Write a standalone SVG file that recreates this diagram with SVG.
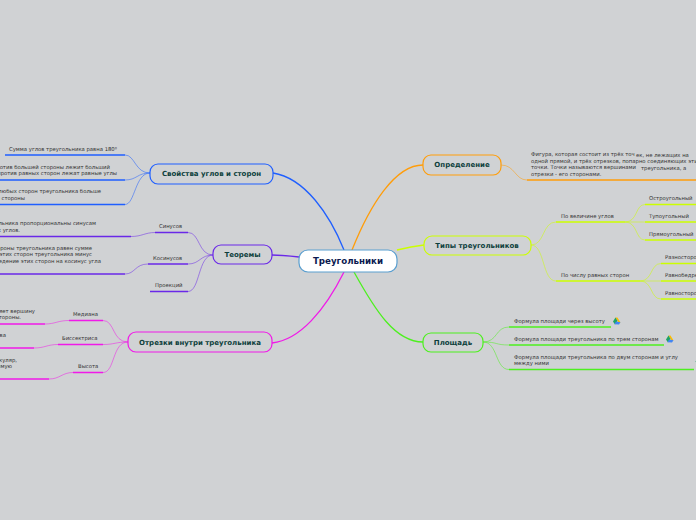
<svg xmlns="http://www.w3.org/2000/svg" width="696" height="520" viewBox="0 0 696 520">
<style>
text{font-family:"DejaVu Sans",sans-serif;fill:#333;font-size:5.3px}
.t{font-weight:bold;font-size:7px;fill:#0d3f3c;text-anchor:middle}
.e{text-anchor:end}
.n{fill:#d0d2d4;stroke-width:1.2}
path{fill:none}
.blue{stroke:#1f5fff}.pur{stroke:#6a28e8}.mag{stroke:#f01ae8}.ora{stroke:#ff9d0a}.yel{stroke:#ccff00}.gre{stroke:#4df01f}
.u{stroke-width:1.5}.c{stroke-width:.8;stroke-opacity:.65}.m{stroke-width:1.3}
</style>
<defs>
<g id="drive"><polygon points="3,-3.5 5,-3.5 8,1.5 6,1.5" fill="#fbbc04"/><polygon points="3,-3.5 5,0 2.5,3.5 0.5,0.5" fill="#1fa463"/><polygon points="2,3.2 3.5,0.5 8,1.2 6.5,3.5" fill="#4285f4"/></g>
</defs>
<rect width="696" height="520" fill="#d0d2d4"/>
<g id="connectors">
<path class="blue m" d="M344 250C330 215 305 178 273 173"/>
<path class="pur m" d="M299 257C290 256 280 255 272 255"/>
<path class="mag m" d="M344 272C325 310 300 340 272 343"/>
<path class="ora m" d="M352 250C370 205 395 165 423 165"/>
<path class="yel m" d="M397 250C405 248 415 246 424 245"/>
<path class="gre m" d="M354 272C375 310 395 342 423 342"/>
<path class="blue c" d="M150 173C135 173 135 155 125 155M150 173C137 173 137 180 125 180M150 173C135 173 135 204.500 125 204.500"/>
<path class="pur c" d="M213 255C198 255 200 232.500 188 232.500M213 255C200 255 200 264 188 264M213 255C198 255 200 291.500 188 291.500"/>
<path class="pur c" d="M155 232.500C145 232.500 142 236.500 131 236.500M148 264C135 264 135 274 125 274"/>
<path class="mag c" d="M128 342C112 342 115 320.500 103 320.500M128 342C115 342 115 344.500 103 344.500M128 342C112 342 115 372.500 103 372.500"/>
<path class="mag c" d="M69 320.500C58 320.500 55 324 45 324M58 344.500C47 344.500 45 348 34 348M73 372.500C62 372.500 60 379 49 379"/>
<path class="ora c" d="M501 165C515 165 515 180 527 180"/>
<path class="yel c" d="M531 245C545 245 542 222 556 222M531 245C545 245 542 281 556 281"/>
<path class="yel c" d="M625 222C638 222 635 204.500 645 204.500M625 222H645M625 222C638 222 635 240 645 240"/>
<path class="yel c" d="M640 281C653 281 650 263.500 661 263.500M640 281H661M640 281C653 281 650 299 661 299"/>
<path class="gre c" d="M483 342C498 342 495 327 509 327M483 342C498 342 495 345 509 345M483 342C498 342 495 369.500 509 369.500"/>
<path class="blue u" d="M5 155H125M0 180H125M0 204.500H125"/>
<path class="pur u" d="M155 232.500H188M0 236.500H131M148 264H188M0 274H125M150 291.500H188"/>
<path class="mag u" d="M69 320.500H103M0 324H45M58 344.500H103M0 348H34M73 372.500H103M0 379H49"/>
<path class="ora u" d="M527 180H696"/>
<path class="yel u" d="M556 222H625M645 204.500H696M645 222H696M645 240H696M556 281H640M661 263.500H696M661 281H696M661 299H696"/>
<path class="gre u" d="M509 327H611M509 345H664M509 369.500H694"/>
</g>
<g id="root"><rect x="299" y="250" width="98" height="22" rx="9" fill="#fff" stroke="#5a9fd0" stroke-width="1.2"/><text x="348" y="264" text-anchor="middle" style="font-weight:bold;font-size:8.700px;fill:#0c1a50">Треугольники</text></g>
<g id="n-svoystva"><rect class="n blue" x="150" y="164" width="123" height="20" rx="8"/><text class="t" x="211.500" y="176">Свойства углов и сторон</text></g>
<g id="n-teoremy"><rect class="n pur" x="213" y="245" width="59" height="19" rx="8"/><text class="t" x="242.500" y="257">Теоремы</text></g>
<g id="n-otrezki"><rect class="n mag" x="128" y="332" width="144" height="20" rx="8"/><text class="t" x="200" y="345">Отрезки внутри треугольника</text></g>
<g id="n-opred"><rect class="n ora" x="423" y="155" width="78" height="20" rx="8"/><text class="t" x="462" y="167">Определение</text></g>
<g id="n-tipy"><rect class="n yel" x="424" y="236" width="107" height="19" rx="8"/><text class="t" x="477" y="248">Типы треугольников</text></g>
<g id="n-plosh"><rect class="n gre" x="423" y="333" width="60" height="19" rx="8"/><text class="t" x="453" y="345">Площадь</text></g>
<g id="props">
<text x="9" y="151">Сумма углов треугольника равна 180⁰</text>
<text class="e" x="110" y="169">Против большей стороны лежит больший</text>
<text class="e" x="117" y="175">угол, против равных сторон лежат равные углы</text>
<text class="e" x="101" y="193">Сумма двух любых сторон треугольника больше</text>
<text class="e" x="25" y="200">третьей стороны</text>
<text x="159" y="228">Синусов</text>
<text class="e" x="96" y="225">Стороны треугольника пропорциональны синусам</text>
<text class="e" x="20" y="232">противолежащих углов.</text>
<text x="153" y="259.500">Косинусов</text>
<text class="e" x="92" y="250">Квадрат стороны треугольника равен сумме</text>
<text class="e" x="92" y="256">квадратов этих сторон треугольника минус</text>
<text class="e" x="101" y="263">удвоенное произведение этих сторон на косинус угла</text>
<text x="155" y="287">Проекций</text>
<text x="73" y="316">Медиана</text>
<text class="e" x="35" y="313">Отрезок, который соединяет вершину</text>
<text class="e" x="21" y="319">с серединой стороны.</text>
<text x="62" y="340">Биссектриса</text>
<text class="e" x="6" y="337">Луч, который делит угол на два</text>
<text x="78" y="368">Высота</text>
<text class="e" x="17" y="362">Перпендикуляр,</text>
<text class="e" x="12" y="368">опущенный из вершины на прямую</text>
</g>
<g id="definition">
<text x="531" y="156">Фигура, которая состоит из трёх точ</text>
<text x="636" y="157">ек, не лежащих на</text>
<text x="531" y="162.500">одной прямой, и трёх отрезков, попарно соединяющих эти</text>
<text x="531" y="169">точки. Точки называются вершинами</text>
<text x="641" y="170">треугольника, а</text>
<text x="531" y="176">отрезки - его сторонами.</text>
</g>
<g id="types">
<text x="561" y="218">По величине углов</text>
<text x="649" y="200">Остроугольный</text>
<text x="649" y="218">Тупоугольный</text>
<text x="649" y="236">Прямоугольный</text>
<text x="561" y="277">По числу равных сторон</text>
<text x="665" y="259">Разносторонний</text>
<text x="665" y="277">Равнобедренный</text>
<text x="665" y="295">Равносторонний</text>
</g>
<g id="area">
<text x="514" y="323">Формула площади через высоту</text>
<use href="#drive" x="612.500" y="321"/>
<text x="514" y="341">Формула площади треугольника по трем сторонам</text>
<use href="#drive" x="665.500" y="339"/>
<text x="514" y="359">Формула площади треугольника по двум сторонам и углу</text>
<text x="514" y="365">между ними</text>
<use href="#drive" x="695" y="361"/>
</g>
</svg>
